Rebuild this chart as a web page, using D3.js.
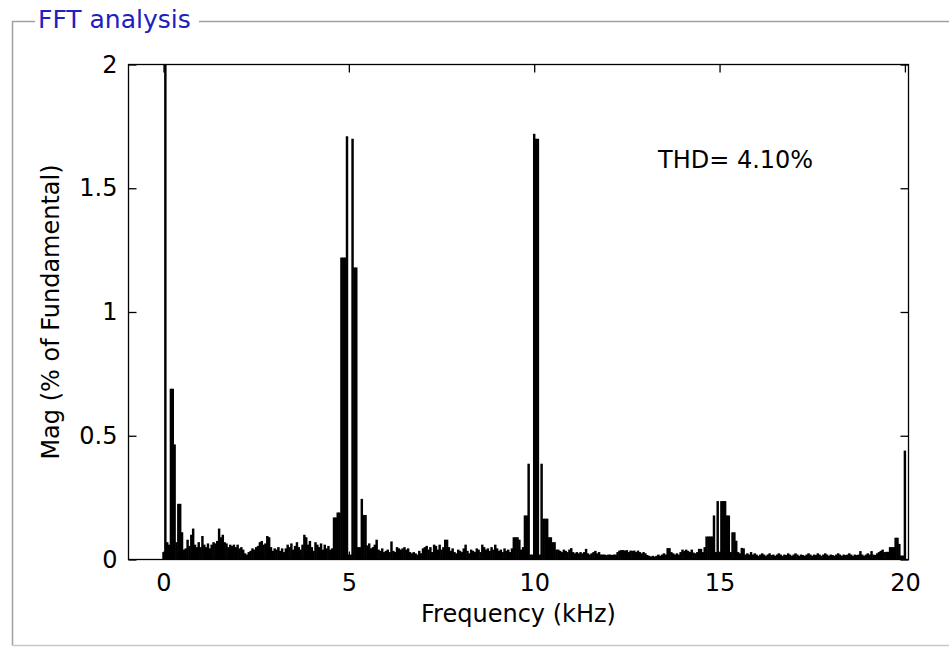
<!DOCTYPE html>
<html>
<head>
<meta charset="utf-8">
<script src="https://cdn.jsdelivr.net/npm/d3@7"></script>
<style>
  body { margin: 0; background: #fff; }
  text { font-family: "DejaVu Sans", sans-serif; }
</style>
</head>
<body>
<div id="fft__chart"></div>
<script>
// bar spacing in kHz (harmonics of 50 Hz)
const harmonicStep = 0.05;

// Mag (% of fundamental), harmonic order 0..99
const mag0to5 = [
  0.03, 100, 0.07, 0.06, 0.69, 0.69, 0.465, 0.07, 0.225, 0.225,
  0.11, 0.04, 0.045, 0.08, 0.055, 0.1, 0.125, 0.06, 0.05, 0.07,
  0.05, 0.095, 0.06, 0.05, 0.065, 0.045, 0.06, 0.07, 0.065, 0.075,
  0.125, 0.09, 0.1, 0.07, 0.065, 0.05, 0.06, 0.055, 0.06, 0.05,
  0.06, 0.045, 0.05, 0.04, 0.025, 0.02, 0.03, 0.035, 0.045, 0.04,
  0.05, 0.055, 0.07, 0.075, 0.06, 0.065, 0.095, 0.09, 0.05, 0.035,
  0.045, 0.04, 0.05, 0.035, 0.045, 0.03, 0.045, 0.06, 0.05, 0.065,
  0.04, 0.055, 0.07, 0.05, 0.04, 0.06, 0.1, 0.09, 0.06, 0.075,
  0.05, 0.035, 0.07, 0.06, 0.05, 0.065, 0.04, 0.06, 0.045, 0.055,
  0.04, 0.045, 0.17, 0.17, 0.19, 0.19, 1.22, 1.22, 1.22, 1.71
];
// harmonic order 100..199
const mag5to10 = [
  0.02, 0.02, 1.70, 1.18, 1.18, 0.05, 0.05, 0.245, 0.18, 0.18,
  0.057, 0.065, 0.045, 0.05, 0.06, 0.08, 0.04, 0.035, 0.045, 0.03,
  0.035, 0.04, 0.03, 0.073, 0.035, 0.03, 0.05, 0.045, 0.04, 0.045,
  0.05, 0.04, 0.045, 0.03, 0.025, 0.03, 0.025, 0.02, 0.035, 0.025,
  0.045, 0.05, 0.055, 0.04, 0.05, 0.03, 0.06, 0.055, 0.04, 0.06,
  0.04, 0.05, 0.08, 0.08, 0.05, 0.035, 0.045, 0.03, 0.025, 0.04,
  0.035, 0.03, 0.045, 0.06, 0.035, 0.025, 0.04, 0.035, 0.03, 0.045,
  0.04, 0.03, 0.06, 0.05, 0.04, 0.045, 0.035, 0.05, 0.04, 0.06,
  0.045, 0.035, 0.04, 0.03, 0.045, 0.035, 0.04, 0.03, 0.045, 0.09,
  0.09, 0.09, 0.08, 0.04, 0.05, 0.178, 0.178, 0.387, 0.02, 0.02
];
// harmonic order 200..299
const mag10to15 = [
  1.72, 1.70, 1.70, 0.02, 0.387, 0.165, 0.165, 0.165, 0.09, 0.09,
  0.07, 0.07, 0.04, 0.04, 0.035, 0.03, 0.04, 0.035, 0.03, 0.04,
  0.046, 0.03, 0.025, 0.03, 0.025, 0.03, 0.025, 0.03, 0.043, 0.025,
  0.02, 0.025, 0.03, 0.035, 0.025, 0.03, 0.02, 0.02, 0.02, 0.018,
  0.02, 0.02, 0.018, 0.02, 0.02, 0.03, 0.036, 0.038, 0.038, 0.036,
  0.038, 0.03, 0.036, 0.035, 0.036, 0.03, 0.036, 0.03, 0.025, 0.03,
  0.025, 0.018, 0.015, 0.012, 0.015, 0.012, 0.015, 0.02, 0.015, 0.02,
  0.025, 0.02, 0.046, 0.046, 0.03, 0.025, 0.02, 0.025, 0.02, 0.03,
  0.04, 0.035, 0.04, 0.035, 0.03, 0.04, 0.028, 0.025, 0.03, 0.043,
  0.043, 0.03, 0.05, 0.093, 0.093, 0.093, 0.093, 0.178, 0.03, 0.236
];
// harmonic order 300..400
const mag15to20 = [
  0.03, 0.236, 0.236, 0.236, 0.178, 0.178, 0.03, 0.11, 0.11, 0.076,
  0.03, 0.025, 0.047, 0.045, 0.02, 0.025, 0.02, 0.03, 0.02, 0.025,
  0.02, 0.015, 0.02, 0.025, 0.02, 0.015, 0.02, 0.025, 0.018, 0.02,
  0.015, 0.02, 0.025, 0.02, 0.015, 0.02, 0.018, 0.025, 0.02, 0.015,
  0.02, 0.025, 0.02, 0.015, 0.02, 0.018, 0.015, 0.02, 0.025, 0.02,
  0.015, 0.02, 0.018, 0.025, 0.02, 0.015, 0.02, 0.025, 0.02, 0.015,
  0.02, 0.018, 0.015, 0.02, 0.025, 0.02, 0.015, 0.02, 0.018, 0.02,
  0.025, 0.02, 0.015, 0.02, 0.018, 0.02, 0.034, 0.02, 0.015, 0.02,
  0.025, 0.02, 0.034, 0.02, 0.018, 0.025, 0.03, 0.035, 0.04, 0.03,
  0.031, 0.031, 0.05, 0.05, 0.05, 0.088, 0.088, 0.063, 0.016, 0.016,
  0.44
];

const xTicks = [0, 5, 10, 15, 20];
const yTicks = [0, 0.5, 1, 1.5, 2];
const panelTitle = 'FFT analysis';
const xLabel = 'Frequency (kHz)';
const yLabel = 'Mag (% of Fundamental)';
const thdText = 'THD= 4.10%';

const spectrum = [].concat(mag0to5, mag5to10, mag10to15, mag15to20)
    .map((v, i) => ({ f: i * harmonicStep, v: v }));

const width = 949, height = 648;
const box = { left: 128.5, right: 908.5, top: 64.5, bottom: 559.5 };

const svg = d3.select('#fft__chart')
    .append('svg')
        .attr('width', width)
        .attr('height', height);

// PANEL FRAME (runs off the right edge of the picture)
svg.append('path')
    .attr('d', `M35,21.5 H12.5 V645.5 M199,21.5 H${width}`)
    .attr('fill', 'none')
    .attr('stroke', '#a0a0a0')
    .attr('stroke-width', 1.5);

svg.append('path')
    .attr('d', `M12.5,645.5 H${width}`)
    .attr('fill', 'none')
    .attr('stroke', '#c8c8c8')
    .attr('stroke-width', 1.5);

svg.append('text')
    .attr('x', 38)
    .attr('y', 28)
    .attr('font-size', 25)
    .attr('fill', '#2020c0')
    .text(panelTitle);

// SCALES
const xScale = d3.scaleLinear()
    .domain([-35 / 37.07, (box.right - 163.5) / 37.07])
    .range([box.left, box.right]);

const yScale = d3.scaleLinear()
    .domain([0, 2])
    .range([box.bottom, box.top]);

const barW = xScale(harmonicStep) - xScale(0);
const overlap = 0.6; // bars touch each other like the matlab bar plot

svg.append('clipPath')
    .attr('id', 'plotClip')
    .append('rect')
        .attr('x', box.left)
        .attr('y', box.top)
        .attr('width', box.right - box.left)
        .attr('height', box.bottom - box.top);

// BARS
svg.append('g')
    .attr('clip-path', 'url(#plotClip)')
    .selectAll('rect')
    .data(spectrum)
    .join('rect')
        .attr('x', d => xScale(d.f) - barW / 2 - overlap / 2)
        .attr('width', barW + overlap)
        .attr('y', d => yScale(Math.min(d.v, 2.1)))
        .attr('height', d => yScale(0) - yScale(Math.min(d.v, 2.1)))
        .attr('fill', '#000');

// AXES (matlab style: ticks inside, on all four sides)
const tickLen = 8;
const fontSize = 24;

const xAxisG = svg.append('g')
    .attr('transform', `translate(0, ${box.bottom})`)
    .call(d3.axisBottom(xScale).tickValues(xTicks).tickSize(-tickLen).tickPadding(14).tickFormat(d3.format('d')));

const xTopG = svg.append('g')
    .attr('transform', `translate(0, ${box.top})`)
    .call(d3.axisTop(xScale).tickValues(xTicks).tickSize(-tickLen).tickFormat(''));

const yAxisG = svg.append('g')
    .attr('transform', `translate(${box.left}, 0)`)
    .call(d3.axisLeft(yScale).tickValues(yTicks).tickSize(-tickLen).tickPadding(11).tickFormat(d => String(d)));

const yRightG = svg.append('g')
    .attr('transform', `translate(${box.right}, 0)`)
    .call(d3.axisRight(yScale).tickValues(yTicks).tickSize(-tickLen).tickFormat(''));

[xAxisG, xTopG, yAxisG, yRightG].forEach(g => {
    g.select('.domain').remove();
    g.selectAll('.tick line').attr('stroke', '#000').attr('stroke-width', 1.3);
    g.selectAll('.tick text')
        .attr('font-family', '"DejaVu Sans", sans-serif')
        .attr('font-size', fontSize)
        .attr('fill', '#000');
});

svg.append('rect')
    .attr('x', box.left)
    .attr('y', box.top)
    .attr('width', box.right - box.left)
    .attr('height', box.bottom - box.top)
    .attr('fill', 'none')
    .attr('stroke', '#000')
    .attr('stroke-width', 1.3);

// LABELS
svg.append('text')
    .attr('x', (box.left + box.right) / 2)
    .attr('y', 622)
    .attr('text-anchor', 'middle')
    .attr('font-size', fontSize)
    .text(xLabel);

svg.append('text')
    .attr('transform', `translate(59, ${(box.top + box.bottom) / 2}) rotate(-90)`)
    .attr('text-anchor', 'middle')
    .attr('font-size', fontSize)
    .text(yLabel);

svg.append('text')
    .attr('x', xScale(13.34))
    .attr('y', yScale(1.58))
    .attr('font-size', fontSize)
    .text(thdText);
</script>
</body>
</html>
